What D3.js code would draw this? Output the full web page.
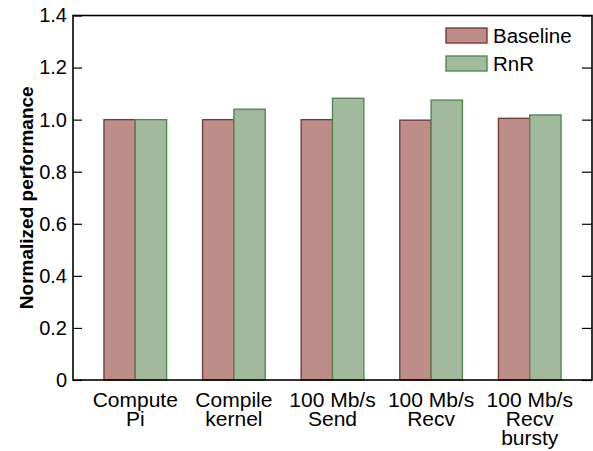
<!DOCTYPE html>
<html lang="en">
<head>
    <meta charset="utf-8">
    <title>Normalized performance</title>
    <script src="https://d3js.org/d3.v7.min.js"></script>
    <style>
        body { margin: 0; background: #fff; }
        text { font-family: "Liberation Sans", Arial, Helvetica, sans-serif; fill: #000; }
    </style>
</head>
<body>
<div id="chart"></div>
<script>
    // values
    const categories = [
        ["Compute", "Pi"],
        ["Compile", "kernel"],
        ["100 Mb/s", "Send"],
        ["100 Mb/s", "Recv"],
        ["100 Mb/s", "Recv", "bursty"]
    ];
    const seriesNames = ["Baseline", "RnR"];
    const baseline = [1.0, 1.0, 1.0, 0.998, 1.005];
    const rnr = [1.0, 1.04, 1.082, 1.075, 1.018];
    const yTicks = [0, 0.2, 0.4, 0.6, 0.8, 1.0, 1.2, 1.4];

    const fills = {Baseline: "#bd8e89", RnR: "#a2b99e"};
    const strokes = {Baseline: "#7e3a33", RnR: "#4f8a4f"};

    const width = 593, height = 451;
    const margin = {top: 15.5, right: 1, bottom: 71, left: 73};

    const svg = d3.select("#chart").append("svg")
        .attr("width", width)
        .attr("height", height);

    const x0 = d3.scaleBand()
        .domain(d3.range(categories.length))
        .range([margin.left, width - margin.right])
        .paddingInner(0.365)
        .paddingOuter(0.314);

    const x1 = d3.scaleBand()
        .domain(seriesNames)
        .range([0, x0.bandwidth()]);

    const y = d3.scaleLinear()
        .domain([0, 1.4])
        .range([height - margin.bottom, margin.top]);

    const rows = categories.map((c, i) => ({
        i: i,
        values: [{key: "Baseline", value: baseline[i]}, {key: "RnR", value: rnr[i]}]
    }));

    // bars
    svg.append("g")
        .selectAll("g")
        .data(rows)
        .join("g")
        .attr("transform", d => `translate(${x0(d.i)},0)`)
        .selectAll("rect")
        .data(d => d.values)
        .join("rect")
        .attr("x", d => x1(d.key))
        .attr("y", d => y(d.value))
        .attr("width", x1.bandwidth())
        .attr("height", d => y(0) - y(d.value))
        .attr("fill", d => fills[d.key])
        .attr("stroke", d => strokes[d.key])
        .attr("stroke-width", 1.4);

    // left axis, ticks pointing in
    const yAxis = svg.append("g")
        .attr("transform", `translate(${margin.left},0)`)
        .call(d3.axisLeft(y).tickValues(yTicks).tickSizeInner(-9).tickSizeOuter(0).tickPadding(6)
            .tickFormat(d => d === 0 ? "0" : d.toFixed(1)));
    yAxis.select(".domain").remove();
    yAxis.selectAll("line").attr("stroke", "#000").attr("stroke-width", 1.2);
    yAxis.selectAll("text").attr("font-size", 20).style("font-family", null);

    // right axis, no labels
    const yAxisR = svg.append("g")
        .attr("transform", `translate(${width - margin.right},0)`)
        .call(d3.axisRight(y).tickValues(yTicks).tickSizeInner(-10).tickSizeOuter(0).tickFormat(""));
    yAxisR.select(".domain").remove();
    yAxisR.selectAll("line").attr("stroke", "#000").attr("stroke-width", 1.2);

    // frame
    svg.append("rect")
        .attr("x", margin.left)
        .attr("y", margin.top)
        .attr("width", width - margin.right - margin.left)
        .attr("height", y(0) - margin.top)
        .attr("fill", "none")
        .attr("stroke", "#000")
        .attr("stroke-width", 1.6);

    // category labels
    svg.append("g")
        .selectAll("text")
        .data(categories)
        .join("text")
        .attr("text-anchor", "middle")
        .attr("font-size", 21)
        .attr("transform", (d, i) => `translate(${x0(i) + x0.bandwidth() / 2},${y(0) + 27})`)
        .selectAll("tspan")
        .data(d => d)
        .join("tspan")
        .attr("x", 0)
        .attr("y", (d, j) => j * 19)
        .text(d => d);

    // y label
    svg.append("text")
        .attr("transform", `translate(33,${(margin.top + y(0)) / 2}) rotate(-90)`)
        .attr("text-anchor", "middle")
        .attr("font-size", 19)
        .attr("font-weight", "bold")
        .text("Normalized performance");

    // legend
    const legend = svg.append("g")
        .selectAll("g")
        .data(seriesNames)
        .join("g")
        .attr("transform", (d, i) => `translate(446,${28 + i * 28})`);
    legend.append("rect")
        .attr("width", 41)
        .attr("height", 15)
        .attr("fill", d => fills[d])
        .attr("stroke", d => strokes[d])
        .attr("stroke-width", 1.4);
    legend.append("text")
        .attr("x", 47)
        .attr("y", 15)
        .attr("font-size", 20.5)
        .text(d => d);
</script>
</body>
</html>
